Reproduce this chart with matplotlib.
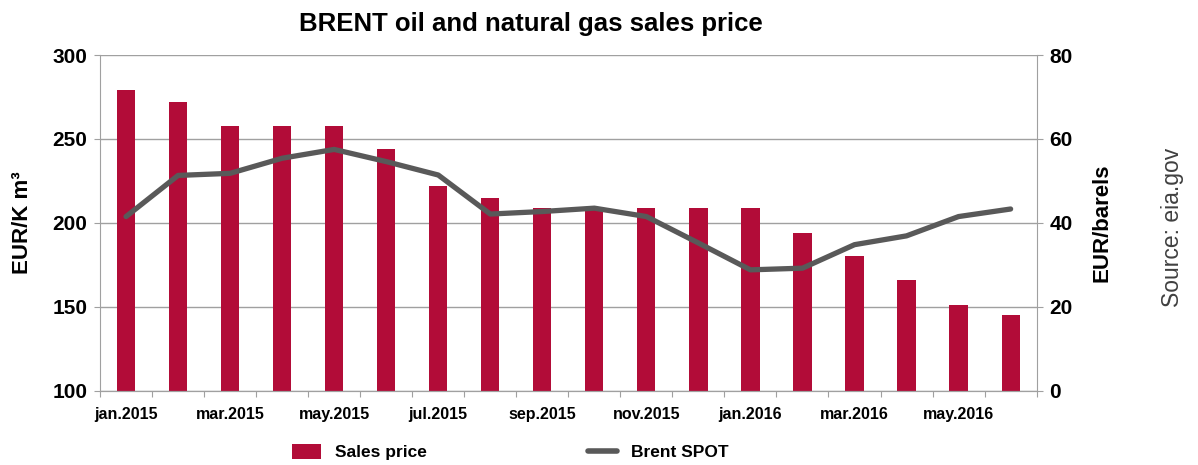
import numpy as np
import matplotlib
matplotlib.use('Agg')
import matplotlib.pyplot as plt
from matplotlib.patches import Patch
from matplotlib.lines import Line2D

plt.rcParams['font.family'] = ['Liberation Sans', 'DejaVu Sans']

months = ['jan.2015', 'feb.2015', 'mar.2015', 'apr.2015', 'may.2015', 'jun.2015',
          'jul.2015', 'aug.2015', 'sep.2015', 'oct.2015', 'nov.2015', 'dec.2015',
          'jan.2016', 'feb.2016', 'mar.2016', 'apr.2016', 'may.2016', 'jun.2016']
sales_price = [279, 272, 258, 258, 258, 244, 222, 215, 208.6, 208.6, 208.6, 208.6,
               208.6, 194, 180, 166, 151, 145]
brent_spot = [41.5, 51.3, 51.8, 55.4, 57.5, 54.6, 51.4, 42.1, 42.7, 43.5, 41.5, 35.2,
              28.8, 29.2, 34.8, 36.9, 41.5, 43.3]

bar_color = '#B20C38'
line_color = '#595959'
axis_color = '#A0A0A0'

fig = plt.figure(figsize=(11.98, 4.65), dpi=100)
ax1 = fig.add_axes([0.0835, 0.1598, 0.7818, 0.7219])
ax2 = ax1.twinx()

x = np.arange(len(months))
ax1.bar(x, np.array(sales_price) - 100, bottom=100, width=0.35, color=bar_color, zorder=2)
ax2.plot(x, brent_spot, color=line_color, linewidth=3.8, solid_capstyle='round',
         solid_joinstyle='round', zorder=3)

ax1.set_ylim(100, 300)
ax1.set_yticks([100, 150, 200, 250, 300])
ax2.set_ylim(0, 80)
ax2.set_yticks([0, 20, 40, 60, 80])
ax1.set_xlim(-0.5, len(months) - 0.5)

# tick marks on category boundaries, labels every second month
ax1.set_xticks(np.arange(-0.5, len(months), 1.0))
ax1.set_xticklabels([])
ax1.set_xticks(x[::2], minor=True)
ax1.set_xticklabels(months[::2], minor=True, fontsize=11.5, fontweight='bold')
ax1.tick_params(axis='x', which='major', length=4, color=axis_color, direction='out')
ax1.tick_params(axis='x', which='minor', length=0, pad=12)

ax1.yaxis.grid(True, color=axis_color, linewidth=1)
ax1.set_axisbelow(True)
for ax in (ax1, ax2):
    ax.spines['top'].set_visible(False)
    for s in ('left', 'right', 'bottom'):
        ax.spines[s].set_color(axis_color)
    ax.tick_params(axis='y', length=4, color=axis_color, labelsize=15, pad=5)
for lbl in ax1.get_yticklabels() + ax2.get_yticklabels():
    lbl.set_fontweight('bold')
ax1.spines['right'].set_visible(False)
ax2.spines['left'].set_visible(False)

ax1.set_ylabel('EUR/K m³', fontsize=16, fontweight='bold', labelpad=14)
ax2.set_ylabel('EUR/barels', fontsize=16, fontweight='bold', labelpad=14)

fig.text(531 / 1198, 1 - 24 / 465, 'BRENT oil and natural gas sales price',
         ha='center', va='center', fontsize=18.5, fontweight='bold')
fig.text(1172 / 1198, 1 - 227 / 465, 'Source: eia.gov', rotation=90,
         ha='center', va='center', fontsize=16.5, color='#404040')

handles = [Patch(facecolor=bar_color, edgecolor='none'),
           Line2D([0], [0], color=line_color, linewidth=4, solid_capstyle='round')]
fig.legend(handles, ['Sales price', 'Brent SPOT'], loc='center', ncol=2,
           bbox_to_anchor=(0.426, 1 - 452 / 465), frameon=False,
           prop={'size': 12.5, 'weight': 'bold'}, handlelength=1.65, handleheight=0.96,
           handletextpad=0.8, columnspacing=9.3)

fig.savefig('out.png', dpi=100)
